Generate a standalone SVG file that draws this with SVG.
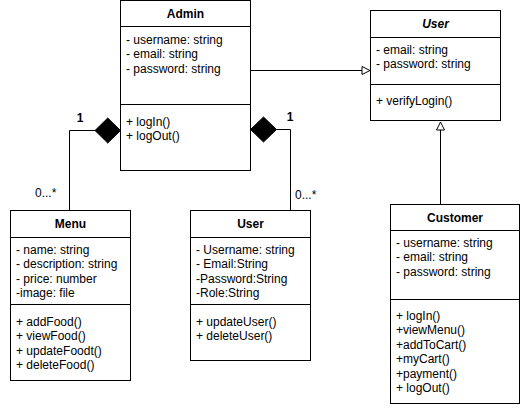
<svg xmlns="http://www.w3.org/2000/svg" width="521" height="408" viewBox="0 0 521 408">
<style>
  .box{fill:#fff;stroke:#000;stroke-width:1}
  .ln{stroke:#000;stroke-width:1;fill:none}
  text{font-family:"Liberation Sans",Arial,Helvetica,sans-serif;font-size:12px;fill:#000}
  .t{font-weight:bold;text-anchor:middle}
  .ti{font-weight:bold;font-style:italic;text-anchor:middle}
  .m{font-size:12px}
  .mb{font-size:12px;font-weight:bold;text-anchor:middle}
</style>
<rect width="521" height="408" fill="#fff"/>
<g id="connectors">
  <path class="ln" d="M250.5 70.5 H362"/>
  <polygon points="362,66.5 370,70.5 362,74.5" fill="#fff" stroke="#000"/>
  <path class="ln" d="M440.5 204 V130"/>
  <polygon points="436.5,130 440.5,122 444.5,130" fill="#fff" stroke="#000"/>
  <path class="ln" d="M95 130.5 H69.5 V210"/>
  <polygon points="120.5,130.5 107.75,118 95,130.5 107.75,143" fill="#000" stroke="#000"/>
  <path class="ln" d="M276.5 129.5 H290.5 V210"/>
  <polygon points="250.5,129.5 263.5,117 276.5,129.5 263.5,142" fill="#000" stroke="#000"/>
  <text class="mb" x="80" y="122">1</text>
  <text class="m" x="35" y="197">0...*</text>
  <text class="mb" x="290" y="121">1</text>
  <text class="m" x="295" y="199">0...*</text>
</g>
<g id="admin">
  <rect class="box" x="120.5" y="0.5" width="130" height="170"/>
  <path class="ln" d="M120.5 26.5 H250.5 M120.5 104.5 H250.5"/>
  <text class="t" x="185.5" y="17.5">Admin</text>
  <text x="126" y="44">- username: string</text>
  <text x="126" y="58.4">- email: string</text>
  <text x="126" y="72.8">- password: string</text>
  <text x="126" y="126">+ logIn()</text>
  <text x="126" y="140.4">+ logOut()</text>
</g>
<g id="user-abstract">
  <rect class="box" x="370.5" y="10.5" width="130" height="110"/>
  <path class="ln" d="M370.5 37.5 H500.5 M370.5 84.5 H500.5"/>
  <text class="ti" x="435.5" y="28">User</text>
  <text x="376" y="54">- email: string</text>
  <text x="376" y="68.4">- password: string</text>
  <text x="376" y="105">+ verifyLogin()</text>
</g>
<g id="menu">
  <rect class="box" x="10.5" y="210.5" width="120" height="170"/>
  <path class="ln" d="M10.5 237.5 H130.5 M10.5 304.5 H130.5"/>
  <text class="t" x="70.5" y="228">Menu</text>
  <text x="16" y="254">- name: string</text>
  <text x="16" y="268.4">- description: string</text>
  <text x="16" y="282.8">- price: number</text>
  <text x="16" y="297.2">-image: file</text>
  <text x="16" y="326">+ addFood()</text>
  <text x="16" y="340.4">+ viewFood()</text>
  <text x="16" y="354.8">+ updateFoodt()</text>
  <text x="16" y="369.2">+ deleteFood()</text>
</g>
<g id="user">
  <rect class="box" x="190.5" y="210.5" width="120" height="150"/>
  <path class="ln" d="M190.5 237.5 H310.5 M190.5 304.5 H310.5"/>
  <text class="t" x="250.5" y="228">User</text>
  <text x="196" y="254">- Username: string</text>
  <text x="196" y="268.4">- Email:String</text>
  <text x="196" y="282.8">-Password:String</text>
  <text x="196" y="297.2">-Role:String</text>
  <text x="196" y="326">+ updateUser()</text>
  <text x="196" y="340.4">+ deleteUser()</text>
</g>
<g id="customer">
  <rect class="box" x="390.5" y="204.5" width="129" height="199"/>
  <path class="ln" d="M390.5 230.5 H519.5 M390.5 299.5 H519.5"/>
  <text class="t" x="455" y="221.5">Customer</text>
  <text x="396" y="247">- username: string</text>
  <text x="396" y="261.4">- email: string</text>
  <text x="396" y="275.8">- password: string</text>
  <text x="396" y="320">+ logIn()</text>
  <text x="396" y="334.4">+viewMenu()</text>
  <text x="396" y="348.8">+addToCart()</text>
  <text x="396" y="363.2">+myCart()</text>
  <text x="396" y="377.6">+payment()</text>
  <text x="396" y="392">+ logOut()</text>
</g>
</svg>
